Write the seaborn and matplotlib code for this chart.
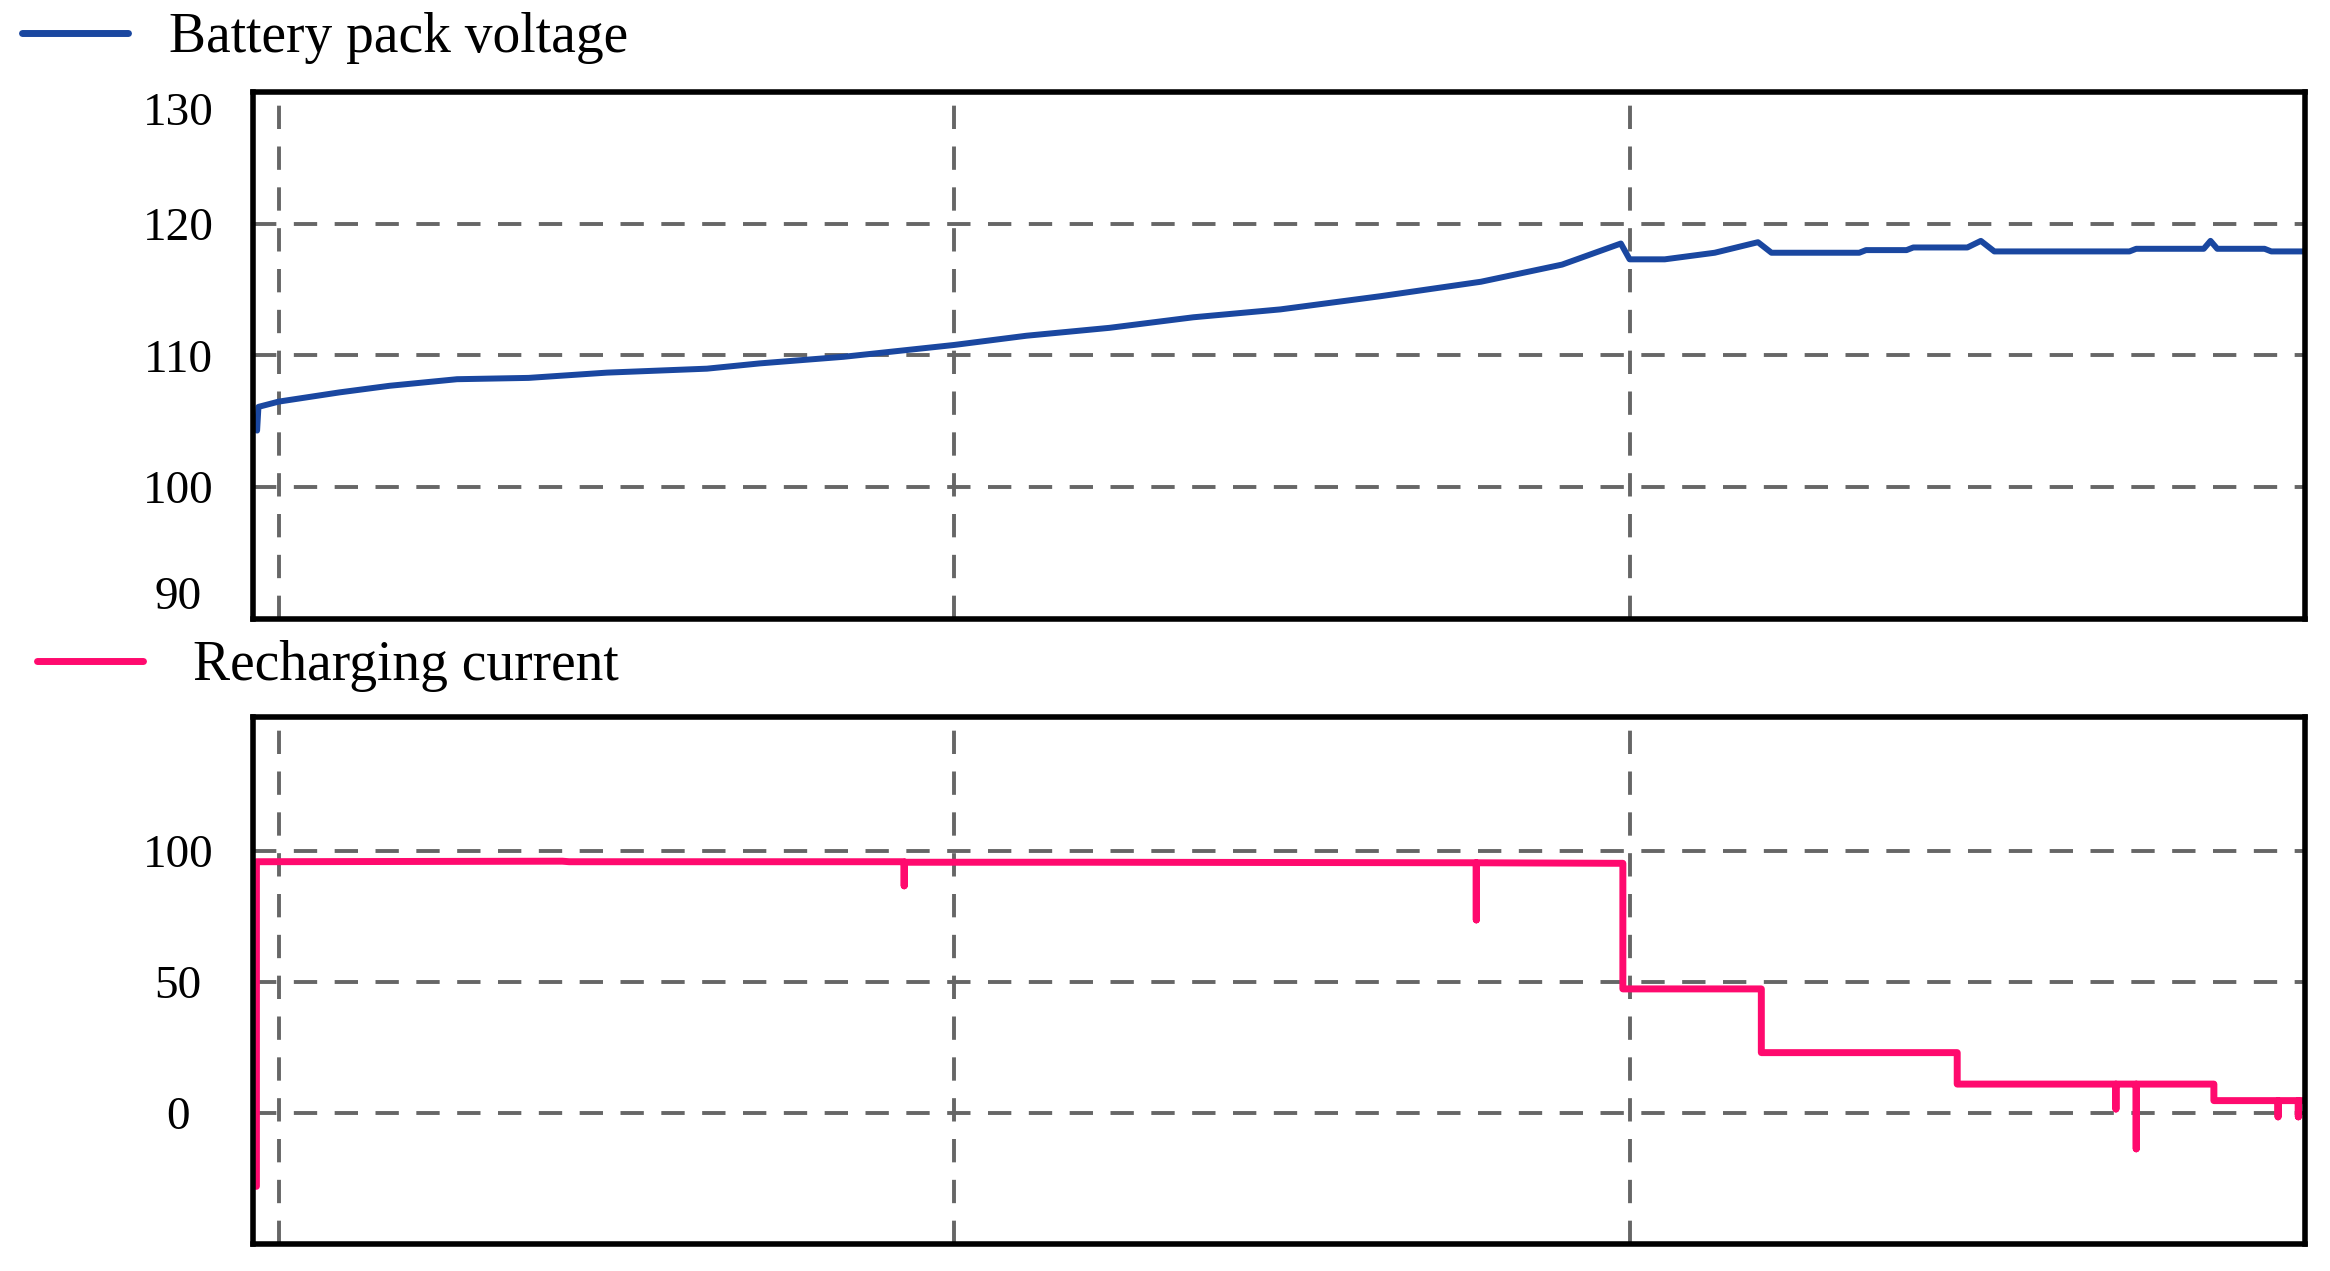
import matplotlib
matplotlib.use("Agg")
import matplotlib.pyplot as plt
import seaborn as sns

# time axis in grid units (vertical grid lines at 0, 1, 2, 3)
volt_t = [-0.032, -0.030, 0.0, 0.09, 0.164, 0.264, 0.37, 0.486, 0.634, 0.712,
          0.836, 1.0, 1.107, 1.23, 1.354, 1.483, 1.631, 1.78, 1.9, 1.987,
          2.0, 2.052, 2.126, 2.19, 2.21, 2.34, 2.35, 2.41, 2.42, 2.5,
          2.52, 2.54, 2.74, 2.75, 2.85, 2.86, 2.87, 2.94, 2.95, 3.0]
volt_v = [104.3, 106.1, 106.5, 107.2, 107.7, 108.2, 108.3, 108.7, 109.0, 109.4,
          109.9, 110.8, 111.5, 112.1, 112.9, 113.5, 114.5, 115.6, 116.9, 118.5,
          117.3, 117.3, 117.8, 118.6, 117.8, 117.8, 118.0, 118.0, 118.2, 118.2,
          118.7, 117.9, 117.9, 118.1, 118.1, 118.7, 118.1, 118.1, 117.9, 117.9]

cur_t = [-0.033, -0.033, 0.2, 0.42, 0.43, 0.6, 0.926, 0.926, 0.926, 1.2,
         1.5, 1.773, 1.773, 1.773, 1.98, 1.99, 1.99, 2.195, 2.195, 2.485,
         2.485, 2.72, 2.72, 2.72, 2.75, 2.75, 2.75, 2.865, 2.865, 2.96,
         2.96, 2.96, 2.99, 2.99, 2.99, 3.0]
cur_a = [-28.0, 95.8, 95.9, 96.0, 95.8, 95.8, 95.8, 86.6, 95.6, 95.6,
         95.5, 95.4, 73.6, 95.4, 95.2, 95.2, 47.3, 47.3, 23.0, 23.0,
         11.0, 11.0, 1.5, 11.0, 11.0, -13.7, 11.0, 11.0, 4.7, 4.7,
         -1.5, 4.7, 4.7, -1.5, 4.7, 4.7]

volt_ticks = [90, 100, 110, 120, 130]
cur_ticks = [0, 50, 100]
grid_x = [0, 1, 2, 3]

BLUE = "#1a47a0"
PINK = "#ff0a6e"
GRID = "#666666"


def style_axes(ax, yticks, ylim):
    ax.set_xlim(-0.038, 3.0)
    ax.set_ylim(*ylim)
    ax.set_xticks(grid_x)
    ax.set_xticklabels([])
    ax.set_yticks(yticks)
    ax.set_yticklabels([str(v) for v in yticks])
    ax.grid(True, linestyle=(0, (6, 4.5)), linewidth=2.8, color=GRID)
    ax.tick_params(axis="x", length=0)
    ax.tick_params(axis="y", direction="inout", length=8, width=2.5,
                   labelsize=34, pad=50, colors="black")
    for lab in ax.get_yticklabels():
        lab.set_horizontalalignment("center")
    for sp in ax.spines.values():
        sp.set_visible(True)
        sp.set_color("black")
        sp.set_linewidth(4.0)
    ax.set_xlabel("")
    ax.set_ylabel("")


def main():
    sns.set_style("white")
    plt.rcParams["font.family"] = ["Liberation Serif", "DejaVu Serif"]
    plt.rcParams["text.color"] = "black"

    fig = plt.figure(figsize=(23.3, 12.71), dpi=100)
    ax1 = fig.add_axes([0.1086, 0.5130, 0.8807, 0.4146])
    ax2 = fig.add_axes([0.1086, 0.0212, 0.8807, 0.4147])

    sns.lineplot(x=volt_t, y=volt_v, ax=ax1, estimator=None, sort=False,
                 color=BLUE, linewidth=4.3, label="Battery pack voltage")
    sns.lineplot(x=cur_t, y=cur_a, ax=ax2, estimator=None, sort=False,
                 color=PINK, linewidth=5.0, label="Recharging current")

    style_axes(ax1, volt_ticks, (90, 129.9))
    style_axes(ax2, cur_ticks, (-50, 151))

    # nudge the end labels inside like the original
    labs = ax1.get_yticklabels()
    labs[0].set_verticalalignment("bottom")
    labs[-1].set_verticalalignment("top")

    ax1.legend(loc="center left", bbox_to_anchor=(22 / 2330, 1 - 38 / 1271),
               bbox_transform=fig.transFigure, frameon=False, fontsize=40,
               handlelength=1.9, handletextpad=0.75, borderpad=0, borderaxespad=0)
    ax2.legend(loc="center left", bbox_to_anchor=(37 / 2330, 1 - 666 / 1271),
               bbox_transform=fig.transFigure, frameon=False, fontsize=40,
               handlelength=1.9, handletextpad=0.9, borderpad=0, borderaxespad=0)
    for leg in (ax1.get_legend(), ax2.get_legend()):
        for ln in leg.get_lines():
            ln.set_linewidth(5.0)

    fig.savefig("out.png", dpi=100)
    plt.close(fig)


if __name__ == "__main__":
    main()
